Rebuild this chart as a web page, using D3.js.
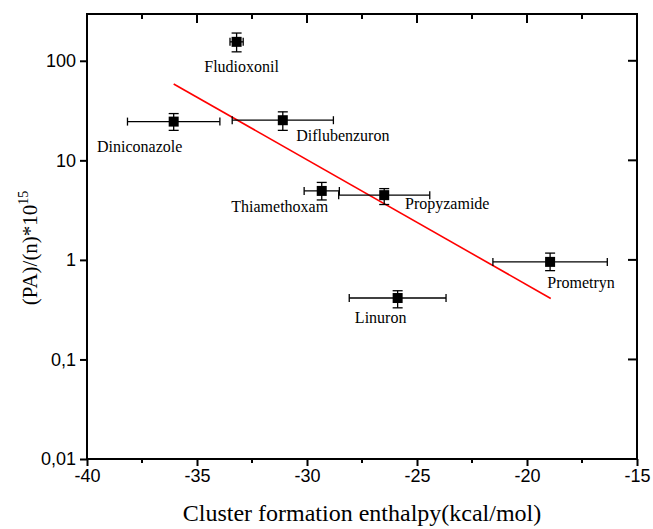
<!DOCTYPE html>
<html><head><meta charset="utf-8">
<script src="https://cdn.jsdelivr.net/npm/d3@7"></script>
<style>body{margin:0;background:#fff}</style>
</head><body>
<svg id="c" width="653" height="529"></svg>
<script>
const names = ["Fludioxonil","Diniconazole","Diflubenzuron","Thiamethoxam","Propyzamide","Prometryn","Linuron"];
const xVals = [-33.2,-36.06,-31.1,-29.33,-26.49,-18.95,-25.88];
const xErr  = [0.3,2.1,2.3,0.8,2.07,2.6,2.2];
const yVals = [155,24.5,25.3,4.93,4.47,0.955,0.414];
const yLow  = [123,20,20,4,3.6,0.78,0.33];
const yHigh = [190,29.5,30.7,6,5.2,1.17,0.49];
const labelDx = [5,-34,60,-42,63,31,-17];
const labelDy = [30,30,21,21,14,26,25];
const fitX = [-36.06,-18.92];
const fitY = [58.5,0.41];
const xTicks = [-40,-35,-30,-25,-20,-15];
const xTickLabels = ["-40","-35","-30","-25","-20","-15"];
const yTicks = [0.01,0.1,1,10,100];
const yTickLabels = ["0,01","0,1","1","10","100"];

const L=87,R=637,T=14,B=459;
const svg=d3.select("#c");
const x=d3.scaleLinear().domain([-40,-15]).range([L,R]);
const y=d3.scaleLog().domain([0.01,Math.pow(10,2.47)]).range([B,T]);

// fit line
svg.append("line").attr("x1",x(fitX[0])).attr("y1",y(fitY[0])).attr("x2",x(fitX[1])).attr("y2",y(fitY[1]))
  .attr("stroke","#ff0000").attr("stroke-width",1.6);

// axes
const minorX=d3.range(-37.5,-15,5);
const gB=svg.append("g").attr("transform",`translate(0,${B})`)
  .call(d3.axisBottom(x).tickValues(xTicks).tickSize(7).tickPadding(3).tickFormat((d,i)=>xTickLabels[i]));
gB.selectAll("line").attr("stroke-width",2);
gB.selectAll("text").attr("font-family","Liberation Sans, Arial").attr("font-size",18).attr("fill","#000");
gB.select(".domain").remove();
minorX.forEach(v=>svg.append("line").attr("x1",x(v)).attr("x2",x(v)).attr("y1",B).attr("y2",B+4).attr("stroke","#000").attr("stroke-width",2));

const gL=svg.append("g").attr("transform",`translate(${L},0)`)
  .call(d3.axisLeft(y).tickValues(yTicks).tickSize(7).tickPadding(4).tickFormat((d,i)=>yTickLabels[i]));
gL.selectAll("line").attr("stroke-width",2);
gL.selectAll("text").attr("font-family","Liberation Sans, Arial").attr("font-size",18).attr("fill","#000");
gL.select(".domain").remove();

// top/right inner ticks
xTicks.forEach(v=>svg.append("line").attr("x1",x(v)).attr("x2",x(v)).attr("y1",T).attr("y2",T+9).attr("stroke","#000").attr("stroke-width",2));
minorX.forEach(v=>svg.append("line").attr("x1",x(v)).attr("x2",x(v)).attr("y1",T).attr("y2",T+5).attr("stroke","#000").attr("stroke-width",2));
yTicks.forEach(v=>svg.append("line").attr("x1",R).attr("x2",R-9).attr("y1",y(v)).attr("y2",y(v)).attr("stroke","#000").attr("stroke-width",2));

// frame
svg.append("rect").attr("x",L).attr("y",T).attr("width",R-L).attr("height",B-T).attr("fill","none").attr("stroke","#000").attr("stroke-width",2);

// points
const g=svg.append("g");
names.forEach((n,i)=>{
  const cx=x(xVals[i]), cy=y(yVals[i]);
  const x0=x(xVals[i]-xErr[i]), x1=x(xVals[i]+xErr[i]);
  const y0=y(yLow[i]), y1=y(yHigh[i]);
  const s="#000";
  g.append("line").attr("x1",x0).attr("x2",x1).attr("y1",cy).attr("y2",cy).attr("stroke",s).attr("stroke-width",1.3);
  g.append("line").attr("x1",x0).attr("x2",x0).attr("y1",cy-4).attr("y2",cy+4).attr("stroke",s).attr("stroke-width",1.3);
  g.append("line").attr("x1",x1).attr("x2",x1).attr("y1",cy-4).attr("y2",cy+4).attr("stroke",s).attr("stroke-width",1.3);
  g.append("line").attr("x1",cx).attr("x2",cx).attr("y1",y0).attr("y2",y1).attr("stroke",s).attr("stroke-width",1.3);
  g.append("line").attr("x1",cx-5).attr("x2",cx+5).attr("y1",y0).attr("y2",y0).attr("stroke",s).attr("stroke-width",1.3);
  g.append("line").attr("x1",cx-5).attr("x2",cx+5).attr("y1",y1).attr("y2",y1).attr("stroke",s).attr("stroke-width",1.3);
  g.append("rect").attr("x",cx-5).attr("y",cy-5).attr("width",10).attr("height",10).attr("fill","#000");
  g.append("text").attr("x",cx+labelDx[i]).attr("y",cy+labelDy[i]).attr("text-anchor","middle")
    .attr("font-family","Liberation Serif, Times New Roman").attr("font-size",16).text(n);
});

// titles
svg.append("text").attr("x",(L+R)/2).attr("y",521).attr("text-anchor","middle")
  .attr("font-family","Liberation Serif, Times New Roman").attr("font-size",24).text("Cluster formation enthalpy(kcal/mol)");
const yt=svg.append("text").attr("transform","translate(37,248) rotate(-90)").attr("text-anchor","middle")
  .attr("font-family","Liberation Serif, Times New Roman").attr("font-size",21);
yt.append("tspan").text("(PA)/(n)*10");
yt.append("tspan").attr("dy",-9).attr("font-size",14).text("15");
</script>
</body></html>
